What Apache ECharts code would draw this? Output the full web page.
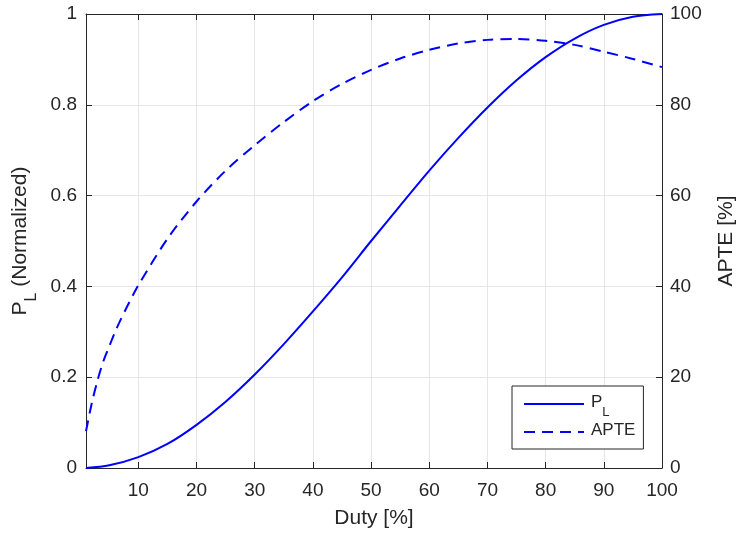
<!DOCTYPE html>
<html>
<head>
<meta charset="utf-8">
<script src="https://cdn.jsdelivr.net/npm/echarts@6/dist/echarts.min.js"></script>
<style>html,body{margin:0;padding:0;background:#fff}#c{width:736px;height:536px}</style>
</head>
<body>
<div id="c"></div>
<script>
// ---- data ----
const dutyTicks = [10, 20, 30, 40, 50, 60, 70, 80, 90, 100];
const dutyPL = [1, 5, 10, 15, 20, 25, 30, 35, 40, 45, 50, 55, 60, 65, 70, 75, 80, 85, 90, 95, 100];
const valuesPL = [0.0, 0.006, 0.024, 0.053, 0.095, 0.146, 0.206, 0.273, 0.345, 0.42, 0.50, 0.578, 0.655, 0.727, 0.794, 0.854, 0.905, 0.946, 0.976, 0.994, 1.0];
const dutyAPTE = [1, 2, 3, 4, 5, 6, 7, 8, 9, 10, 15, 20, 25, 30, 35, 40, 45, 50, 55, 60, 65, 70, 75, 80, 85, 90, 95, 100];
const valuesAPTE = [8.1, 14.3, 19.4, 23.6, 26.8, 30.0, 32.8, 35.4, 37.9, 40.3, 50.5, 58.7, 65.5, 71.1, 76.2, 80.8, 84.6, 87.7, 90.2, 92.1, 93.5, 94.3, 94.5, 94.1, 93.2, 91.7, 90.1, 88.3];

const FONT = '"Liberation Sans", Arial, Helvetica, sans-serif';
const AX = '#262626';
const BLUE = '#0000ff';
const FS_TICK = 19;
const FS_NAME = 21;
const FS_LEG = 17;

const plData = dutyPL.map((d, i) => [d, valuesPL[i]]);
const apteData = dutyAPTE.map((d, i) => [d, valuesAPTE[i]]);

const chart = echarts.init(document.getElementById('c'), null, {renderer: 'canvas'});
const legRich = {
  a: {fontSize: FS_LEG, fontFamily: FONT, color: AX, lineHeight: 20, verticalAlign: 'top'},
  b: {fontSize: 13, fontFamily: FONT, color: AX, lineHeight: 14, padding: [12, 0, 0, 0], verticalAlign: 'top'}
};
const nameRich = {
  a: {fontSize: FS_NAME, fontFamily: FONT, color: AX, lineHeight: 24, verticalAlign: 'top'},
  b: {fontSize: 16, fontFamily: FONT, color: AX, lineHeight: 16, padding: [14, 0, 0, 0], verticalAlign: 'top'}
};
chart.setOption({
  animation: false,
  backgroundColor: '#fff',
  textStyle: {fontFamily: FONT},
  grid: {left: 86, right: 74, top: 14, bottom: 68, containLabel: false, outerBoundsMode: 'none'},
  legend: {
    orient: 'vertical',
    left: 512, top: 386,
    padding: [8, 8, 10, 11],
    itemGap: 3,
    itemWidth: 60, itemHeight: 14,
    backgroundColor: '#fff',
    borderColor: AX, borderWidth: 1,
    itemStyle: {opacity: 0},
    textStyle: {fontSize: FS_LEG, color: AX, fontFamily: FONT, padding: [0, 0, 0, 2], rich: legRich},
    formatter: function (name) { return name === 'PL' ? '{a|P}{b|L}' : '{a|' + name + '}'; },
    data: ['PL', 'APTE']
  },
  xAxis: [{
    type: 'value', min: 1, max: 100,
    name: 'Duty [%]', nameLocation: 'middle', nameGap: 40,
    nameTextStyle: {fontSize: FS_NAME, color: AX, fontFamily: FONT},
    axisLine: {show: true, onZero: false, lineStyle: {color: AX, width: 1}},
    axisTick: {show: true, inside: true, length: 6, customValues: dutyTicks, lineStyle: {color: AX}},
    axisLabel: {show: true, customValues: dutyTicks, fontSize: FS_TICK, color: AX, fontFamily: FONT, margin: 13},
    splitLine: {show: true, lineStyle: {color: '#e6e6e6', width: 1}}
  }, {
    type: 'value', min: 1, max: 100, position: 'top',
    axisLine: {show: true, onZero: false, lineStyle: {color: AX, width: 1}},
    axisTick: {show: true, inside: true, length: 6, customValues: dutyTicks, lineStyle: {color: AX}},
    axisLabel: {show: false},
    splitLine: {show: false}
  }],
  yAxis: [{
    type: 'value', min: 0, max: 1, interval: 0.2,
    name: '{a|P}{b|L}{a| (Normalized)}', nameLocation: 'middle', nameGap: 47, nameRotate: 90,
    nameTextStyle: {fontSize: FS_NAME, color: AX, fontFamily: FONT, rich: nameRich},
    axisLine: {show: true, onZero: false, lineStyle: {color: AX, width: 1}},
    axisTick: {show: true, inside: true, length: 6, lineStyle: {color: AX}},
    axisLabel: {fontSize: FS_TICK, color: AX, fontFamily: FONT, margin: 9},
    splitLine: {show: true, lineStyle: {color: '#e6e6e6', width: 1}}
  }, {
    type: 'value', min: 0, max: 100, interval: 20, position: 'right',
    name: 'APTE [%]', nameLocation: 'middle', nameGap: 54, nameRotate: 90,
    nameTextStyle: {fontSize: FS_NAME, color: AX, fontFamily: FONT},
    axisLine: {show: true, onZero: false, lineStyle: {color: AX, width: 1}},
    axisTick: {show: true, inside: true, length: 6, lineStyle: {color: AX}},
    axisLabel: {fontSize: FS_TICK, color: AX, fontFamily: FONT, margin: 8},
    splitLine: {show: false}
  }],
  series: [{
    name: 'PL', type: 'line', xAxisIndex: 0, yAxisIndex: 0,
    data: plData, smooth: 0.3, symbol: 'none', showSymbol: false,
    lineStyle: {color: BLUE, width: 2, type: 'solid'}, itemStyle: {color: BLUE}
  }, {
    name: 'APTE', type: 'line', xAxisIndex: 0, yAxisIndex: 1,
    data: apteData, smooth: 0.3, symbol: 'none', showSymbol: false,
    lineStyle: {color: BLUE, width: 2, type: [11, 7]}, itemStyle: {color: BLUE}
  }]
});
</script>
</body>
</html>
